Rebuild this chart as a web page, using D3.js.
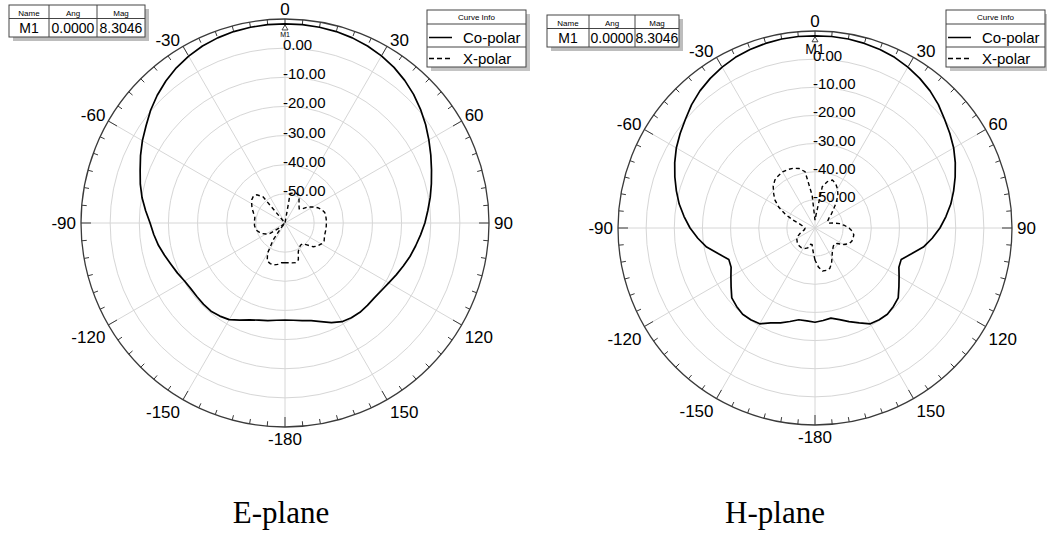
<!DOCTYPE html>
<html><head><meta charset="utf-8">
<script src="https://cdn.jsdelivr.net/npm/d3@7"></script>
<style>
body{margin:0;background:#fff}
svg{display:block}
text{font-family:Arial,"Liberation Sans",sans-serif;fill:#000}
</style>
</head><body>
<svg id="chart" width="1047" height="538"></svg>
<script>
// ---------------- data ----------------
const angles = [-180,-175,-170,-165,-160,-155,-150,-145,-140,-135,-130,-125,-120,-115,-110,-105,-100,-95,-90,-85,-80,-75,-70,-65,-60,-55,-50,-45,-40,-35,-30,-25,-20,-15,-10,-5,0,5,10,15,20,25,30,35,40,45,50,55,60,65,70,75,80,85,90,95,100,105,110,115,120,125,130,135,140,145,150,155,160,165,170,175];

const eCoPolar = [-26.7,-26.5,-26.0,-25.5,-24.6,-23.2,-21.7,-21.0,-20.5,-20.5,-20.6,-20.6,-20.2,-19.3,-18.4,-17.2,-15.9,-14.8,-13.7,-12.0,-10.2,-8.6,-7.1,-5.3,-3.5,-1.8,0.2,2.0,3.6,5.0,6.1,7.0,7.6,8.0,8.2,8.3,8.3,8.3,8.2,8.0,7.6,7.0,6.2,5.2,3.9,2.4,0.7,-1.1,-3.0,-4.8,-6.5,-8.0,-9.4,-10.8,-12.0,-13.3,-14.5,-15.6,-16.8,-17.9,-18.9,-19.6,-20.0,-20.0,-20.0,-20.3,-20.9,-22.3,-24.0,-25.3,-26.0,-26.5];

const eXPolar = [-46.4,-46.3,-45.6,-45.1,-45.2,-45.6,-48.0,-52.9,-58.3,-60,-57.3,-53.8,-52.5,-51.4,-50.7,-50.0,-49.7,-49.5,-49.5,-49.5,-49.5,-49.0,-48.3,-47.5,-46.8,-46.1,-45.8,-46.3,-48.3,-60,-60,-60,-60,-60,-60,-60,-60,-60,-49.7,-49.4,-49.0,-49.4,-50.4,-51.6,-52.5,-53.1,-52.6,-50.4,-49.0,-47.6,-46.6,-45.9,-45.8,-45.8,-45.8,-45.8,-45.8,-45.8,-45.6,-45.2,-45.6,-46.3,-47.3,-49.4,-50.7,-50.7,-50.2,-49.2,-46.6,-45.9,-46.1,-46.3];

const hCoPolar = [-26.5,-26.9,-26.9,-25.6,-24.1,-22.8,-20.7,-20.2,-20.0,-20.6,-21.4,-23.6,-25.5,-27.1,-27.4,-24.5,-20.9,-18.2,-15.6,-13.3,-11.0,-9.0,-7.0,-5.0,-3.1,-1.5,0.1,2.0,3.6,4.9,6.0,6.9,7.5,7.9,8.2,8.3,8.3,8.3,8.2,7.9,7.5,6.9,6.0,4.9,3.6,2.0,0.1,-1.5,-3.1,-5.0,-7.0,-9.0,-11.0,-13.3,-15.6,-18.2,-20.9,-24.5,-27.4,-27.1,-25.5,-23.6,-21.4,-20.6,-20.0,-20.2,-20.7,-22.8,-24.6,-26.3,-27.5,-27.0];

const hXPolar = [-48.6,-51.8,-54.0,-54.0,-52.5,-52.0,-51.6,-51.5,-51.5,-51.6,-51.8,-52.2,-52.5,-53.4,-54.3,-55.4,-56.1,-56.4,-56.4,-55.9,-55.4,-54.3,-51.5,-48.3,-45.1,-42.6,-40.8,-39.0,-37.8,-37.3,-37.0,-37.1,-37.4,-38.1,-39.7,-48.3,-57.2,-55.0,-45.1,-42.9,-41.9,-42.6,-44.0,-45.8,-48.3,-50.8,-52.5,-54.0,-54.7,-55.0,-55.0,-53.2,-51.1,-49.5,-47.9,-46.7,-46.0,-46.0,-46.1,-46.7,-48.3,-50.4,-51.1,-50.8,-50.2,-49.3,-47.9,-46.1,-44.7,-44.4,-44.5,-46.1];

const radialDomain = [-60, 10];
const ringLevels = [0, -10, -20, -30, -40, -50];
const ringLabels = ["0.00", "-10.00", "-20.00", "-30.00", "-40.00", "-50.00"];
const angleTickValues = [0, 30, 60, 90, 120, 150, 180, -150, -120, -90, -60, -30];
const angleTickLabels = ["0", "30", "60", "90", "120", "150", "-180", "-150", "-120", "-90", "-60", "-30"];
const markerHeaders = ["Name", "Ang", "Mag"];
const markerRow = ["M1", "0.0000", "8.3046"];
const markerAngle = 0;
const markerValue = 8.3046;
const seriesNames = ["Co-polar", "X-polar"];
const legendTitle = "Curve Info";
const captions = ["E-plane", "H-plane"];

// ---------------- layout ----------------
const panels = [
  {co: eCoPolar, x: eXPolar, cx: 285, cy: 223, R: 204, caption: captions[0], capX: 281,
   table: {x: 9, y: 5, w: 136, c1: 40, c2: 88}, legend: {x: 427, y: 10}, m1Size: 7, m1Dy: 13},
  {co: hCoPolar, x: hXPolar, cx: 815, cy: 228, R: 197, caption: captions[1], capX: 775,
   table: {x: 547, y: 15, w: 132, c1: 42, c2: 88}, legend: {x: 946, y: 10}, m1Size: 14, m1Dy: 18}
];

const svg = d3.select("#chart");
const rad = d => d * Math.PI / 180;

panels.forEach(p => {
  const g = svg.append("g").attr("transform", `translate(${p.cx},${p.cy})`);
  const r = d3.scaleLinear().domain(radialDomain).range([0, p.R]).clamp(true);

  // rings
  g.selectAll(".ring").data(ringLevels).join("circle")
    .attr("r", d => r(d)).attr("fill", "none").attr("stroke", "#d6d6d6").attr("stroke-width", 1);
  // spokes
  const spokeAngles = d3.range(0, 360, 30);
  g.selectAll(".spoke").data(spokeAngles).join("line")
    .attr("x1", 0).attr("y1", 0)
    .attr("x2", d => p.R * Math.sin(rad(d))).attr("y2", d => -p.R * Math.cos(rad(d)))
    .attr("stroke", "#d6d6d6").attr("stroke-width", 1);
  // outer circle
  g.append("circle").attr("r", p.R).attr("fill", "none").attr("stroke", "#3a3a3a").attr("stroke-width", 1.3);
  // ticks
  const tickAngles = d3.range(0, 360, 5);
  g.selectAll(".tick").data(tickAngles).join("line")
    .attr("x1", d => p.R * Math.sin(rad(d))).attr("y1", d => -p.R * Math.cos(rad(d)))
    .attr("x2", d => (p.R - (d % 30 === 0 ? 10 : 5)) * Math.sin(rad(d)))
    .attr("y2", d => -(p.R - (d % 30 === 0 ? 10 : 5)) * Math.cos(rad(d)))
    .attr("stroke", "#3a3a3a").attr("stroke-width", 1);

  // radial labels
  g.selectAll(".rlab").data(ringLevels).join("text")
    .attr("x", -2).attr("y", d => -r(d) + 2)
    .attr("font-size", 15).text((d, i) => ringLabels[i]);

  // angle labels
  angleTickValues.forEach((a, i) => {
    const s = Math.sin(rad(a)), c = Math.cos(rad(a));
    const px = p.R * s, py = -p.R * c;
    let anchor = Math.abs(s) < 0.01 ? "middle" : (s > 0 ? "start" : "end");
    let gx = Math.abs(c) < 0.01 ? 5 : 3;
    let x = anchor === "middle" ? px : (anchor === "start" ? px + gx : px - gx);
    let y;
    if (Math.abs(c) < 0.01) y = 6;
    else if (c > 0) y = py - (Math.abs(s) < 0.01 ? 4 : 0);
    else y = py + 18;
    g.append("text").attr("x", x).attr("y", y).attr("text-anchor", anchor)
      .attr("font-size", 17).text(angleTickLabels[i]);
  });

  // curves
  const line = d3.lineRadial()
    .angle((d, i) => rad(angles[i]))
    .radius(d => r(d))
    .curve(d3.curveLinearClosed);
  g.append("path").attr("d", line(p.co)).attr("fill", "none")
    .attr("stroke", "#000").attr("stroke-width", 1.7).attr("stroke-linejoin", "round");
  g.append("path").attr("d", line(p.x)).attr("fill", "none")
    .attr("stroke", "#000").attr("stroke-width", 1.4).attr("stroke-dasharray", "4,3");

  // marker M1
  const mr = r(markerValue);
  const mx = mr * Math.sin(rad(markerAngle)), my = -mr * Math.cos(rad(markerAngle));
  g.append("path").attr("d", `M${mx},${my + 1} L${mx - 3},${my + 6} L${mx + 3},${my + 6} Z`)
    .attr("fill", "#fff").attr("stroke", "#333").attr("stroke-width", 0.9);
  g.append("text").attr("x", mx).attr("y", my + p.m1Dy).attr("text-anchor", "middle")
    .attr("font-size", p.m1Size).attr("fill", "#333").text(markerRow[0]);

  // marker table
  const t = p.table;
  const hh = 13.5, rh = 18.5;
  svg.append("rect").attr("x", t.x + 4).attr("y", t.y + 4).attr("width", t.w).attr("height", hh + rh).attr("fill", "#bdbdbd");
  svg.append("rect").attr("x", t.x).attr("y", t.y).attr("width", t.w).attr("height", hh + rh)
    .attr("fill", "#fff").attr("stroke", "#444").attr("stroke-width", 1);
  svg.append("line").attr("x1", t.x).attr("x2", t.x + t.w).attr("y1", t.y + hh).attr("y2", t.y + hh).attr("stroke", "#444");
  const cols = [t.x, t.x + t.c1, t.x + t.c2, t.x + t.w];
  [1, 2].forEach(k => svg.append("line").attr("x1", cols[k]).attr("x2", cols[k])
    .attr("y1", t.y).attr("y2", t.y + hh + rh).attr("stroke", "#444"));
  markerHeaders.forEach((h, k) => svg.append("text").attr("x", (cols[k] + cols[k + 1]) / 2).attr("y", t.y + 11)
    .attr("text-anchor", "middle").attr("font-size", 8).text(h));
  markerRow.forEach((v, k) => svg.append("text").attr("x", (cols[k] + cols[k + 1]) / 2).attr("y", t.y + hh + 14)
    .attr("text-anchor", "middle").attr("font-size", 14).text(v));

  // legend
  const L = p.legend, lw = 99, lh = 57;
  svg.append("rect").attr("x", L.x + 4).attr("y", L.y + 4).attr("width", lw).attr("height", lh).attr("fill", "#c4c4c4");
  svg.append("rect").attr("x", L.x).attr("y", L.y).attr("width", lw).attr("height", lh)
    .attr("fill", "#fff").attr("stroke", "#444").attr("stroke-width", 1);
  svg.append("line").attr("x1", L.x).attr("x2", L.x + lw).attr("y1", L.y + 14).attr("y2", L.y + 14).attr("stroke", "#444");
  svg.append("line").attr("x1", L.x).attr("x2", L.x + lw).attr("y1", L.y + 37).attr("y2", L.y + 37).attr("stroke", "#444");
  svg.append("text").attr("x", L.x + lw / 2).attr("y", L.y + 10).attr("text-anchor", "middle").attr("font-size", 8).text(legendTitle);
  seriesNames.forEach((n, k) => {
    const yy = L.y + 27.5 + k * 21;
    svg.append("line").attr("x1", L.x + 2).attr("x2", L.x + 25).attr("y1", yy).attr("y2", yy)
      .attr("stroke", "#000").attr("stroke-width", 1.5).attr("stroke-dasharray", k === 0 ? null : "5,3");
    svg.append("text").attr("x", L.x + 36).attr("y", yy + 5.5).attr("font-size", 15).text(n);
  });

  // caption
  svg.append("text").attr("x", p.capX).attr("y", 523).attr("text-anchor", "middle")
    .style("font-family", "'Liberation Serif','Times New Roman',serif").attr("font-size", 31).text(p.caption);
});
</script>
</body></html>
